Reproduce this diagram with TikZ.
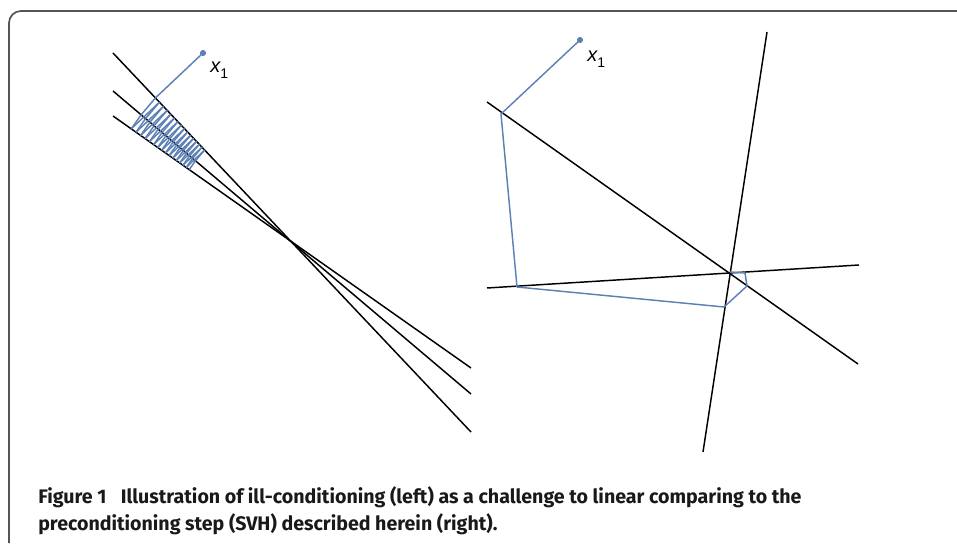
\documentclass[tikz,border=0pt]{standalone}
\usepackage{fontspec}
\setmainfont{Liberation Sans}
\newfontfamily\capfont{Fira Sans}
\usetikzlibrary{calc}
\definecolor{mblue}{RGB}{94,129,181}
\definecolor{framegray}{RGB}{85,85,85}
\begin{document}
\begin{tikzpicture}[x=0.75pt,y=-0.75pt,
  blackline/.style={line width=1.1pt, black},
  blueline/.style={line width=1.1pt, mblue, line join=round},
  framepath/.style={line width=1.3pt, framegray, rounded corners=9pt},
  dotmark/.style={fill=mblue},
  lab/.style={font=\fontsize{15}{15}\selectfont, inner sep=0pt, anchor=base west},
  captext/.style={font=\capfont\bfseries\fontsize{14.7}{16}\selectfont, inner sep=0pt, anchor=base west, text=black!90}]
\useasboundingbox (0,0) rectangle (957,545);
\draw[framepath] (9,543) -- (9,11) -- (957,11);

% left panel lines
\coordinate (La0) at (113,53);  \coordinate (Lb0) at (471,432);
\coordinate (La1) at (113,91);  \coordinate (Lb1) at (471,394);
\coordinate (La2) at (113,116); \coordinate (Lb2) at (471,368);
\draw[blackline] (La0) -- (Lb0);
\draw[blackline] (La1) -- (Lb1);
\draw[blackline] (La2) -- (Lb2);

% Kaczmarz iterations
\coordinate (k0) at (203,53);
\foreach \i in {1,...,48}{
  \pgfmathtruncatemacro{\j}{\i-1}
  \pgfmathtruncatemacro{\m}{mod(\i-1,3)}
  \coordinate (k\i) at ($(La\m)!(k\j)!(Lb\m)$);
  \draw[blueline] (k\j) -- (k\i);
}
\fill[dotmark] (k0) circle (2.3pt);
\node[lab] (lx1) at (210,73) {\itshape x\raisebox{-0.3em}{\fontsize{10.5}{10.5}\selectfont\upshape 1}};

% right panel lines
\coordinate (Ra0) at (767,32);  \coordinate (Rb0) at (703,452);
\coordinate (Ra1) at (487,102); \coordinate (Rb1) at (858,364);
\coordinate (Ra2) at (487,288); \coordinate (Rb2) at (859,265);
\draw[blackline] (Ra0) -- (Rb0);
\draw[blackline] (Ra1) -- (Rb1);
\draw[blackline] (Ra2) -- (Rb2);

\coordinate (r0) at (580,40);
\coordinate (r1) at (501,114);
\coordinate (r2) at (517,287);
\coordinate (r3) at (724,307);
\coordinate (r4) at (747,286);
\coordinate (r5) at (745,273);
\coordinate (r6) at (730,272);
\draw[blueline] (r0) -- (r1) -- (r2) -- (r3) -- (r4) -- (r5) -- (r6);
\fill[dotmark] (r0) circle (2.3pt);
\node[lab] (rx1) at (587,62) {\itshape x\raisebox{-0.3em}{\fontsize{10.5}{10.5}\selectfont\upshape 1}};

% caption
\node[captext] (cap1) at (38,503) {Figure 1\hspace{0.5em} Illustration of ill-conditioning (left) as a challenge to linear comparing to the};
\node[captext] (cap2) at (38,530) {preconditioning step (SVH) described herein (right).};
\end{tikzpicture}
\end{document}
